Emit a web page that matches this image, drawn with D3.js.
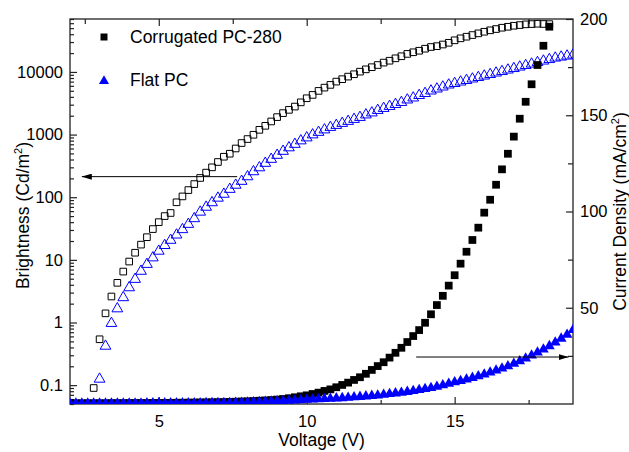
<!doctype html>
<html>
<head>
<meta charset="utf-8">
<title>Brightness and current density vs voltage</title>
<script src="https://cdnjs.cloudflare.com/ajax/libs/d3/7.8.5/d3.min.js"></script>
<style>
  body { margin: 0; background: #fff; }
  svg { font-family: "Liberation Sans", Arial, sans-serif; }
  .axis text { font-size: 16.5px; fill: #000; }
  .axis line { stroke: #222; stroke-width: 1.2; }
  .axis path { display: none; }
</style>
</head>
<body>
<div id="chart"></div>
<script>
// voltage sweep (V)
const voltsCorr = [
  2.0, 2.2, 2.4, 2.6, 2.8, 3.0, 3.2, 3.4, 3.6, 3.8,
  4.0, 4.2, 4.4, 4.6, 4.8, 5.0, 5.2, 5.4, 5.6, 5.8,
  6.0, 6.2, 6.4, 6.6, 6.8, 7.0, 7.2, 7.4, 7.6, 7.8,
  8.0, 8.2, 8.4, 8.6, 8.8, 9.0, 9.2, 9.4, 9.6, 9.8,
  10.0, 10.2, 10.4, 10.6, 10.8, 11.0, 11.2, 11.4, 11.6, 11.8,
  12.0, 12.2, 12.4, 12.6, 12.8, 13.0, 13.2, 13.4, 13.6, 13.8,
  14.0, 14.2, 14.4, 14.6, 14.8, 15.0, 15.2, 15.4, 15.6, 15.8,
  16.0, 16.2, 16.4, 16.6, 16.8, 17.0, 17.2, 17.4, 17.6, 17.8,
  18.0, 18.2
];
const voltsFlat = [
  2.0, 2.2, 2.4, 2.6, 2.8, 3.0, 3.2, 3.4, 3.6, 3.8,
  4.0, 4.2, 4.4, 4.6, 4.8, 5.0, 5.2, 5.4, 5.6, 5.8,
  6.0, 6.2, 6.4, 6.6, 6.8, 7.0, 7.2, 7.4, 7.6, 7.8,
  8.0, 8.2, 8.4, 8.6, 8.8, 9.0, 9.2, 9.4, 9.6, 9.8,
  10.0, 10.2, 10.4, 10.6, 10.8, 11.0, 11.2, 11.4, 11.6, 11.8,
  12.0, 12.2, 12.4, 12.6, 12.8, 13.0, 13.2, 13.4, 13.6, 13.8,
  14.0, 14.2, 14.4, 14.6, 14.8, 15.0, 15.2, 15.4, 15.6, 15.8,
  16.0, 16.2, 16.4, 16.6, 16.8, 17.0, 17.2, 17.4, 17.6, 17.8,
  18.0, 18.2, 18.4, 18.6, 18.8, 19.0
];

// brightness (Cd/m2), null = not measured
const brightCorr = [
  null, null, null, null, 0.09, 0.54, 1.4, 2.6, 4.3, 6.5,
  9.4, 13, 17.5, 23, 31, 40, 50, 56, 83, 103,
  130, 162, 203, 247, 300, 365, 443, 495, 600, 733,
  848, 993, 1190, 1380, 1620, 1900, 2200, 2480, 2800, 3270,
  3800, 4300, 4980, 5620, 6210, 7010, 7660, 8420, 9190, 10100,
  11000, 11900, 12900, 14100, 15100, 16500, 17800, 19400, 20600, 21800,
  23500, 25000, 25800, 27400, 29200, 32000, 34400, 36500, 38800, 41300,
  43800, 46200, 48400, 50800, 52600, 54600, 56000, 57500, 58100, 58800,
  58300, 58000
];
const brightFlat = [
  null, null, null, null, null, 0.125, 0.42, 0.97, 1.66, 2.5,
  3.6, 4.9, 6.6, 8.5, 10.8, 13.8, 17, 20.6, 25, 30.5,
  37, 45.6, 58, 69.5, 82, 97, 112, 134, 156, 180,
  213, 256, 296, 349, 404, 468, 542, 617, 701, 797,
  889, 993, 1089, 1193, 1306, 1406, 1514, 1630, 1754, 1885,
  2067, 2225, 2439, 2625, 2825, 3037, 3268, 3581, 3855, 4226,
  4548, 4980, 5360, 5770, 6210, 6560, 6930, 7330, 7740, 8170,
  8630, 9120, 9640, 10180, 10760, 11370, 12020, 12700, 13400, 14170,
  14970, 15820, 16710, 17340, 17990, 18660
];

// current density (mA/cm2)
const currentCorr = [
  0.4, 0.4, 0.4, 0.4, 0.4, 0.4, 0.4, 0.45, 0.45, 0.45,
  0.5, 0.5, 0.5, 0.5, 0.55, 0.55, 0.6, 0.6, 0.65, 0.65,
  0.7, 0.75, 0.8, 0.85, 0.9, 0.95, 1.0, 1.1, 1.2, 1.3,
  1.4, 1.55, 1.7, 1.85, 2.05, 2.3, 2.6, 3.0, 3.5, 4.0,
  4.5, 5.2, 5.9, 6.8, 7.6, 8.7, 9.9, 11.1, 12.5, 13.9,
  15.7, 17.7, 19.7, 21.7, 24.1, 26.6, 29.2, 32.2, 35.3, 38.4,
  42.2, 46.6, 51.4, 56.2, 61.5, 66.9, 72.9, 79.1, 85.2, 91.6,
  99.4, 106.1, 113.9, 121.9, 130, 138.9, 148.2, 157, 166.1, 176.1,
  186.1, 196
];
const currentFlat = [
  0.3, 0.3, 0.3, 0.3, 0.3, 0.3, 0.3, 0.3, 0.3, 0.3,
  0.3, 0.3, 0.3, 0.35, 0.35, 0.35, 0.35, 0.4, 0.4, 0.4,
  0.4, 0.45, 0.45, 0.5, 0.5, 0.55, 0.55, 0.6, 0.65, 0.7,
  0.8, 0.9, 1.0, 1.15, 1.3, 1.45, 1.6, 1.75, 1.9, 2.05,
  2.2, 2.35, 2.5, 2.65, 2.8, 2.95, 3.1, 3.3, 3.5, 3.75,
  4.0, 4.25, 4.5, 4.85, 5.2, 5.55, 5.9, 6.35, 6.8, 7.3,
  7.8, 8.4, 9.0, 9.8, 10.6, 11.3, 12.0, 12.8, 13.6, 14.5,
  15.4, 16.4, 17.4, 18.5, 19.6, 20.9, 22.2, 23.7, 25.2, 26.8,
  28.4, 30.1, 32.0, 34.0, 36.0, 38.5
];

// ticks
const xMajorTicks = [5, 10, 15];
const xMinorTicks = [2.5, 7.5, 12.5, 17.5];
const bMajorTicks = [0.1, 1, 10, 100, 1000, 10000];
const jMajorTicks = [50, 100, 150, 200];
const jMinorTicks = [25, 75, 125, 175];

const seriesNames = ["Corrugated PC-280", "Flat PC"];

// arrow annotations in data units: [voltage, value]
const arrowBright = [[7.65, 213], [2.4, 213]];
const arrowCurrent = [[13.7, 24.4], [18.85, 24.4]];

const W = 629, H = 452;
const L = 70, R = 573, T = 19, B = 404;

const svg = d3.select("#chart").append("svg")
  .attr("width", W).attr("height", H);

const x = d3.scaleLinear().domain([2, 19]).range([L, R]);
const yB = d3.scaleLog().domain([0.05, 70000]).range([B, T]);
const yJ = d3.scaleLinear().domain([0, 200]).range([B, T]);

svg.append("defs").append("clipPath").attr("id", "plot")
  .append("rect").attr("x", L).attr("y", T).attr("width", R - L).attr("height", B - T);

svg.select("defs").append("marker")
  .attr("id", "head")
  .attr("viewBox", "0 0 10 6")
  .attr("refX", 10).attr("refY", 3)
  .attr("markerWidth", 10).attr("markerHeight", 6)
  .attr("markerUnits", "userSpaceOnUse")
  .attr("orient", "auto")
  .append("path").attr("d", "M0,0L10,3L0,6Z").attr("fill", "#000");

// axes
svg.append("g").attr("class", "axis").attr("transform", `translate(0,${B})`)
  .call(d3.axisBottom(x).tickValues(xMajorTicks).tickSize(-7).tickPadding(11).tickFormat(d3.format("d")));
svg.append("g").attr("class", "axis").attr("transform", `translate(0,${B})`)
  .call(d3.axisBottom(x).tickValues(xMinorTicks).tickSize(-4).tickFormat(""));
svg.append("g").attr("class", "axis").attr("transform", `translate(0,${T})`)
  .call(d3.axisTop(x).tickValues(xMajorTicks).tickSize(-7).tickFormat(""));
svg.append("g").attr("class", "axis").attr("transform", `translate(0,${T})`)
  .call(d3.axisTop(x).tickValues(xMinorTicks).tickSize(-5).tickFormat(""));

const isDecade = v => Math.abs(Math.log10(v) - Math.round(Math.log10(v))) < 1e-9;
svg.append("g").attr("class", "axis").attr("transform", `translate(${L},0)`)
  .call(d3.axisLeft(yB).tickValues(bMajorTicks).tickSize(-7).tickPadding(7).tickFormat(d3.format("~g")));
svg.append("g").attr("class", "axis").attr("transform", `translate(${L},0)`)
  .call(d3.axisLeft(yB).tickValues(yB.ticks().filter(v => !isDecade(v))).tickSize(-4).tickFormat(""));

svg.append("g").attr("class", "axis").attr("transform", `translate(${R},0)`)
  .call(d3.axisRight(yJ).tickValues(jMajorTicks).tickSize(-7).tickPadding(7));
svg.append("g").attr("class", "axis").attr("transform", `translate(${R},0)`)
  .call(d3.axisRight(yJ).tickValues(jMinorTicks).tickSize(-5).tickFormat(""));

// frame
svg.append("rect")
  .attr("x", L).attr("y", T).attr("width", R - L).attr("height", B - T)
  .attr("fill", "none").attr("stroke", "#222").attr("stroke-width", 1.3);

// data
const pts = (vs, ys) => vs.map((v, i) => ({ v, y: ys[i] })).filter(d => d.y != null);
const sq = d3.symbol().type(d3.symbolSquare);
const tri = d3.symbol().type(d3.symbolTriangle);

const plot = svg.append("g").attr("clip-path", "url(#plot)");

plot.append("g").selectAll("path").data(pts(voltsCorr, brightCorr)).join("path")
  .attr("transform", d => `translate(${x(d.v)},${yB(d.y)})`)
  .attr("d", sq.size(44)())
  .attr("fill", "none").attr("stroke", "#000").attr("stroke-width", 1);

plot.append("g").selectAll("path").data(pts(voltsFlat, brightFlat)).join("path")
  .attr("transform", d => `translate(${x(d.v)},${yB(d.y)})`)
  .attr("d", tri.size(50)())
  .attr("fill", "none").attr("stroke", "#0000ff").attr("stroke-width", 1);

plot.append("g").selectAll("path").data(pts(voltsCorr, currentCorr)).join("path")
  .attr("transform", d => `translate(${x(d.v)},${yJ(d.y)})`)
  .attr("d", sq.size(60)())
  .attr("fill", "#000");

plot.append("g").selectAll("path").data(pts(voltsFlat, currentFlat)).join("path")
  .attr("transform", d => `translate(${x(d.v)},${yJ(d.y)})`)
  .attr("d", tri.size(50)())
  .attr("fill", "#0000ff");

// arrows
svg.append("line")
  .attr("x1", x(arrowBright[0][0])).attr("y1", yB(arrowBright[0][1]))
  .attr("x2", x(arrowBright[1][0])).attr("y2", yB(arrowBright[1][1]))
  .attr("stroke", "#000").attr("stroke-width", 1).attr("marker-end", "url(#head)");
svg.append("line")
  .attr("x1", x(arrowCurrent[0][0])).attr("y1", yJ(arrowCurrent[0][1]))
  .attr("x2", x(arrowCurrent[1][0])).attr("y2", yJ(arrowCurrent[1][1]))
  .attr("stroke", "#000").attr("stroke-width", 1).attr("marker-end", "url(#head)");

// legend
const legend = svg.append("g").style("font-size", "17.5px");
legend.append("path").attr("transform", "translate(104,37)").attr("d", sq.size(49)()).attr("fill", "#000");
legend.append("text").attr("x", 130).attr("y", 43).text(seriesNames[0]);
legend.append("path").attr("transform", "translate(104,81)").attr("d", tri.size(44)()).attr("fill", "#0000ff");
legend.append("text").attr("x", 130).attr("y", 86).text(seriesNames[1]);

// axis titles
svg.append("text").attr("x", (L + R) / 2).attr("y", 446)
  .attr("text-anchor", "middle").style("font-size", "17.5px").text("Voltage (V)");

const yTitle = svg.append("text")
  .attr("transform", `translate(29,${(T + B) / 2 + 4}) rotate(-90)`)
  .attr("text-anchor", "middle").style("font-size", "17.5px");
yTitle.append("tspan").text("Brightness (Cd/m");
yTitle.append("tspan").attr("dy", -7).style("font-size", "11px").text("2");
yTitle.append("tspan").attr("dy", 7).text(")");

const jTitle = svg.append("text")
  .attr("transform", `translate(626,${(T + B) / 2}) rotate(-90)`)
  .attr("text-anchor", "middle").style("font-size", "17.5px");
jTitle.append("tspan").text("Current Density (mA/cm");
jTitle.append("tspan").attr("dy", -7).style("font-size", "11px").text("2");
jTitle.append("tspan").attr("dy", 7).text(")");
</script>
</body>
</html>
